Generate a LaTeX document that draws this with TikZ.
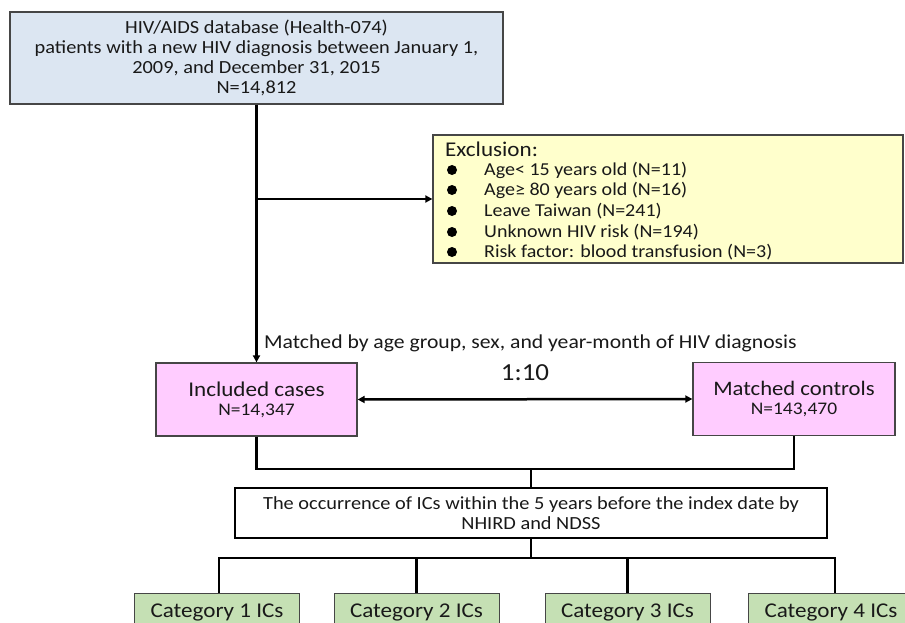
\documentclass[tikz,border=0pt]{standalone}
\usepackage{fontspec}
\setmainfont{Carlito}[FakeStretch=1.1]
\usetikzlibrary{arrows.meta}
\definecolor{dbblue}{RGB}{220, 230, 242}
\definecolor{exyellow}{RGB}{255, 255, 204}
\definecolor{grppink}{RGB}{255, 204, 255}
\definecolor{catgreen}{RGB}{197, 224, 180}
\definecolor{edgegray}{RGB}{70, 70, 70}
\definecolor{inkgray}{RGB}{25, 25, 25}

\tikzset{
  flowbox/.style={draw=edgegray,line width=1.3pt,align=center,inner sep=0pt,text=inkgray},
  catbox/.style={flowbox,fill=catgreen,line width=1pt,minimum width=165pt,anchor=north,
    text height=14pt,text depth=30pt,inner ysep=9.5pt,font=\fontsize{21}{24}\selectfont},
  link/.style={line width=2.5pt},
  tip/.tip={Triangle[length=7pt,width=7pt]},
  arrowlink/.style={link,-tip},
}

\begin{document}
\begin{tikzpicture}[x=1pt,y=-1pt]
\useasboundingbox (0,0) rectangle (905,623);
\clip (0,0) rectangle (905,623);
\fill[white] (0,0) rectangle (905,623);
% source database
\node[flowbox,fill=dbblue,minimum width=493pt,minimum height=92pt,font=\fontsize{18.5}{20}\selectfont] (src) at (256.5,58)
  {HIV/AIDS database (Health-074)\\patients with a new HIV diagnosis between January 1,\\2009, and December 31, 2015\\N=14,812};
% exclusion criteria
\node[flowbox,fill=exyellow,minimum width=470pt,minimum height=128pt] (excl) at (668,199) {};
\node[anchor=west,inner sep=0pt,text=inkgray,font=\fontsize{21}{24}\selectfont] (exhead) at (445,149) {Exclusion:};
\foreach \y/\txt in {170/{Age< 15 years old (N=11)},190/{Age≥ 80 years old (N=16)},211/{Leave Taiwan (N=241)},232/{Unknown HIV risk (N=194)},252/{Risk factor: blood transfusion (N=3)}}{
  \fill (452,\y) circle (5pt);
  \node[anchor=west,inner sep=0pt,text=inkgray,font=\fontsize{18.2}{20}\selectfont] at (484,\y) {\txt};
}
% matched groups
\node[flowbox,fill=grppink,minimum width=201pt,minimum height=73pt,font=\fontsize{21}{24}\selectfont] (cases) at (256.5,399.5)
  {Included cases\\[-5pt]{\fontsize{17.7}{20}\selectfont N=14,347}};
\node[flowbox,fill=grppink,minimum width=202pt,minimum height=73pt,font=\fontsize{20.6}{24}\selectfont] (ctrls) at (794,399)
  {Matched controls\\[-5pt]{\fontsize{17.7}{20}\selectfont N=143,470}};
\node[anchor=west,inner sep=0pt,text=inkgray,font=\fontsize{19.7}{22}\selectfont] (matchnote) at (264,343)
  {Matched by age group, sex, and year-month of HIV diagnosis};
\node[inner sep=0pt,text=inkgray,font=\fontsize{24.5}{28}\selectfont] (ratio) at (525,373) {1:10};
% outcome
\node[flowbox,draw=black,line width=2.8pt,fill=white,minimum width=592pt,minimum height=50pt,font=\fontsize{18.5}{20.5}\selectfont] (ics) at (531,513)
  {The occurrence of ICs within the 5 years before the index date by\\NHIRD and NDSS};
% categories
\node[catbox] (cat1) at (217,593) {Category 1 ICs};
\node[catbox] (cat2) at (416.5,593) {Category 2 ICs};
\node[catbox] (cat3) at (627.5,593) {Category 3 ICs};
\node[catbox] (cat4) at (831,593) {Category 4 ICs};
% connectors
\coordinate (trunk) at (256.5,199);
\draw[arrowlink] (src.south -| trunk) -- (cases.north -| trunk);
\draw[arrowlink] (trunk) -- (excl.west |- trunk);
\draw[link,tip-tip] (cases.east) -- (ctrls.west);
\coordinate (merge) at (531,469);
\draw[link] (cases.south) |- (merge) -| (ctrls.south);
\draw[link] (merge) -- (ics.north);
\coordinate (split) at (531,558);
\draw[link] (ics.south) -- (split);
\draw[link] ([xshift=2pt]cat1.north) |- (split) -| ([xshift=4pt]cat4.north);
\draw[link] (cat2.north) -- (cat2.north |- split);
\draw[link] (cat3.north) -- (cat3.north |- split);
\end{tikzpicture}
\end{document}
